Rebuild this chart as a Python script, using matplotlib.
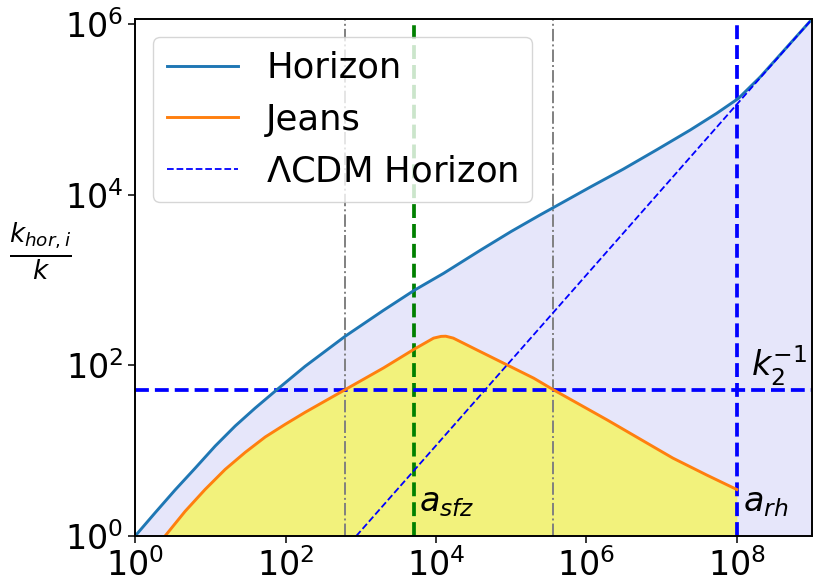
import numpy as np
import matplotlib.pyplot as plt
from matplotlib.ticker import LogLocator, NullLocator

# values
a_horizon = [1, 1.85, 3.4, 6.28, 11.6, 21.4, 39.4, 76.6, 182, 617, 2.0e3,
             5.13e3, 1.26e4, 3.89e4, 1e5, 2.43e5, 3.63e5, 1.12e6, 3.09e6,
             8.7e6, 2.4e7, 5.37e7, 1.05e8, 2.04e8, 1e9]
k_horizon = [1, 1.88, 3.47, 6.24, 11.35, 19.5, 31.6, 51.9, 97.7, 219, 442,
             759, 1.2e3, 2.24e3, 3.72e3, 5.82e3, 7.08e3, 1.23e4, 2.0e4,
             3.39e4, 5.75e4, 9.0e4, 1.35e5, 2.4e5, 1.15e6]

a_jeans = [2.5, 4.62, 8.5, 15.7, 29.0, 53.7, 98.9, 182, 617, 2.0e3, 5.13e3,
           9.3e3, 1.17e4, 1.35e4, 1.7e4, 3.55e4, 8.7e4, 2.0e5, 3.63e5,
           1.9e6, 5.25e6, 1.41e7, 3.98e7, 1e8]
k_jeans = [1, 1.95, 3.51, 6.03, 9.55, 14.5, 20.4, 28.2, 51.9, 93.3, 155,
           209, 219, 220, 209, 151, 102, 70.8, 51.9,
           22.9, 13.6, 8.2, 5.19, 3.51]

a_lcdm = [870, 1e9]
k_lcdm = [1, 1.15e6]

k2_inv = 51.9
a_sfz = 5.13e3
a_rh = 1e8
a_cross = [617, 3.63e5]

fig, ax = plt.subplots(figsize=(8.19, 5.77), dpi=100)
fig.subplots_adjust(left=0.165, right=0.9915, bottom=0.071, top=0.967)

ax.set_xscale('log')
ax.set_yscale('log')

ax.fill_between(a_horizon, k_horizon, 1, color='#e6e6fa', lw=0)
ax.fill_between(a_jeans, k_jeans, 1, color='yellow', alpha=0.5, lw=0)

for a in a_cross:
    ax.axvline(a, color='gray', ls='-.', lw=1.4)
ax.axvline(a_sfz, color='g', ls='--', lw=2.7)
ax.axvline(a_rh, color='b', ls='--', lw=2.7)
ax.axhline(k2_inv, color='b', ls='--', lw=2.7)

ax.plot(a_horizon, k_horizon, color='C0', lw=2.1, label='Horizon')
ax.plot(a_jeans, k_jeans, color='C1', lw=2.1, label='Jeans')
ax.plot(a_lcdm, k_lcdm, color='b', ls='--', lw=1.3, label=r'$\Lambda$CDM Horizon')

ax.text(1.55e8, 75, r'$k_2^{-1}$', fontsize=24)
ax.text(5.9e3, 1.95, r'$a_{sfz}$', fontsize=24)
ax.text(1.2e8, 1.95, r'$a_{rh}$', fontsize=24)

ax.set_xlim(1, 1e9)
ax.set_ylim(1, 1.15e6)
ax.xaxis.set_major_locator(LogLocator(base=100))
ax.yaxis.set_major_locator(LogLocator(base=100))
ax.xaxis.set_minor_locator(NullLocator())
ax.yaxis.set_minor_locator(NullLocator())
ax.tick_params(labelsize=24, length=5, width=1.1)
for s in ax.spines.values():
    s.set_linewidth(1.4)

ax.set_ylabel(r'$\frac{k_{hor,i}}{k}$', fontsize=27, rotation=0)
ax.yaxis.set_label_coords(-0.14, 0.49)

ax.legend(loc='upper left', fontsize=25.5)

plt.savefig('out.png', dpi=100)
